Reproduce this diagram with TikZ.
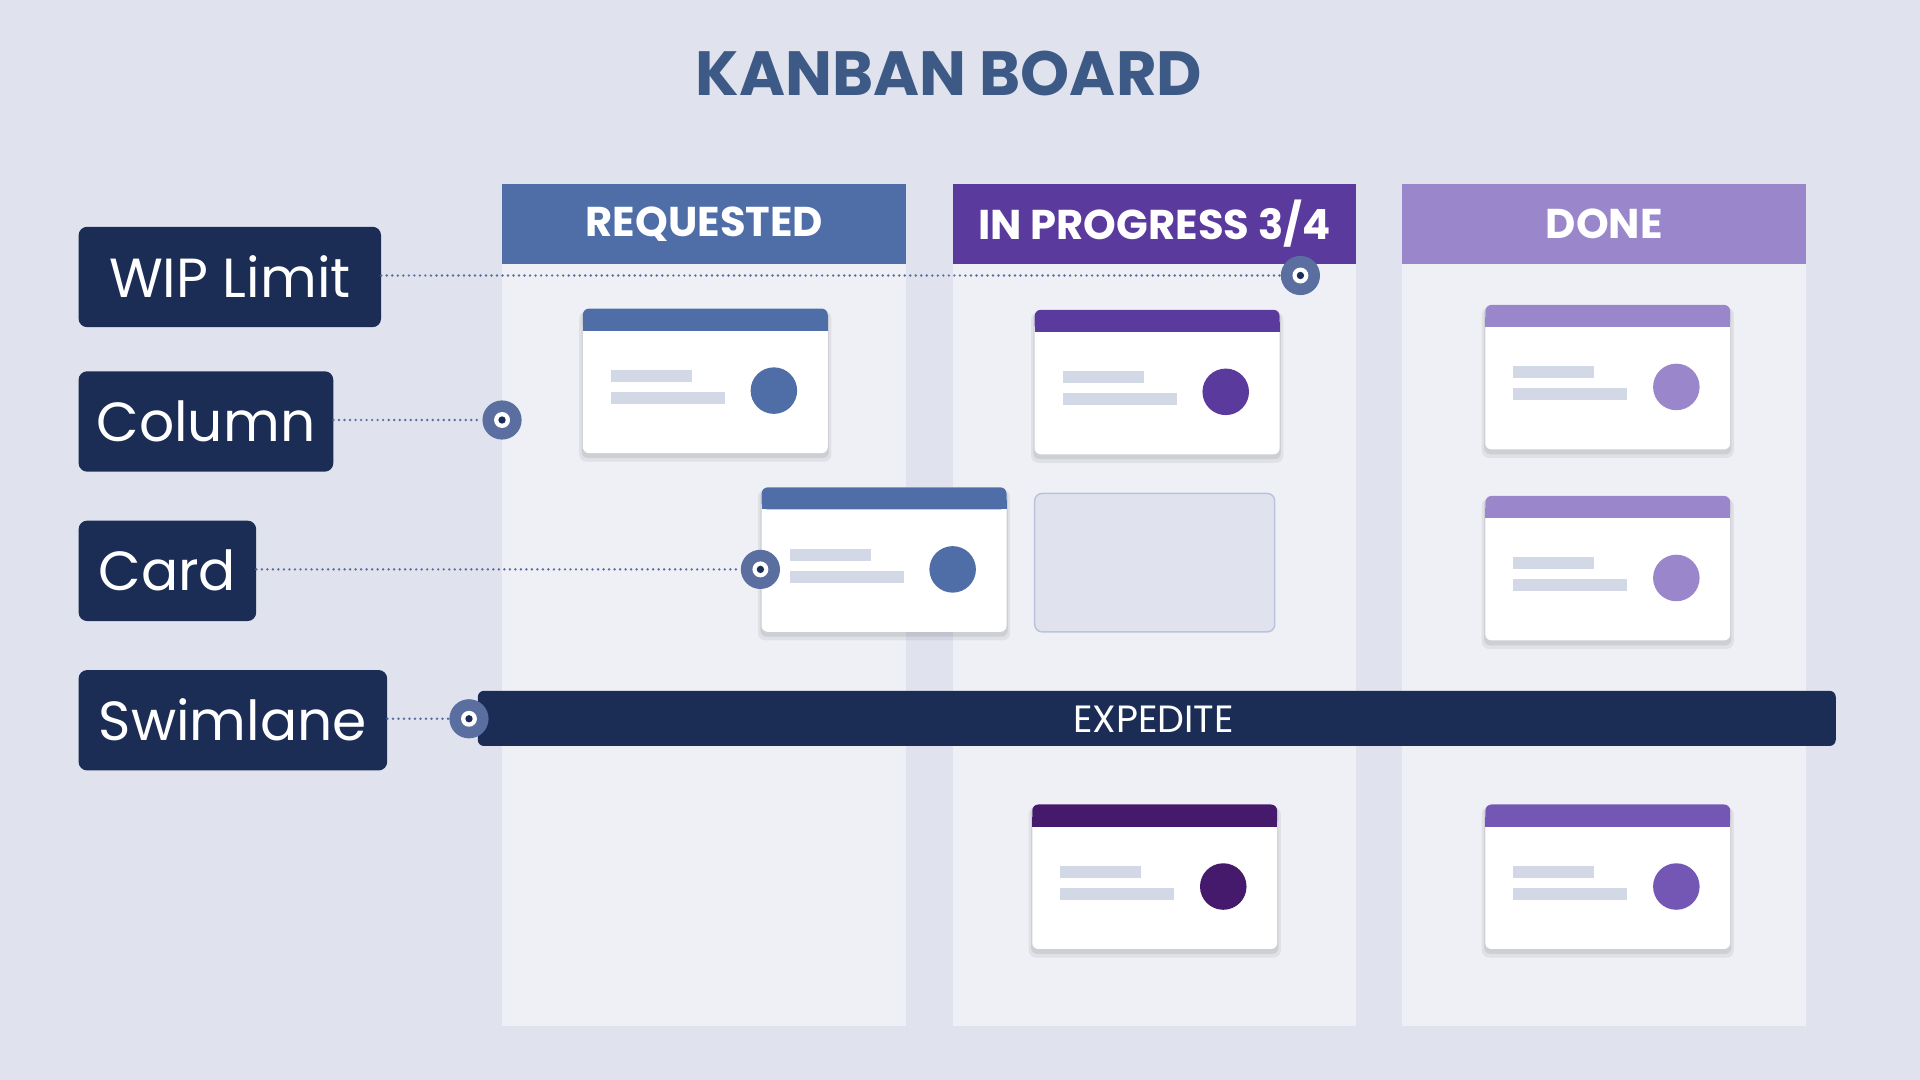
\documentclass[tikz,border=0pt]{standalone}
\usepackage{fontspec}
\setmainfont{Poppins}
\usetikzlibrary{shadows}
\definecolor{bg}{HTML}{E0E3EE}
\definecolor{colbg}{HTML}{EEF0F6}
\definecolor{req}{HTML}{4F6EA8}
\definecolor{prog}{HTML}{5B3A9E}
\definecolor{done}{HTML}{9A86CB}
\definecolor{navy}{HTML}{1B2D55}
\definecolor{ttl}{HTML}{3D5A87}
\definecolor{dpurp}{HTML}{45196B}
\definecolor{mpurp}{HTML}{7457B5}
\definecolor{lineg}{HTML}{D3D8E6}
\definecolor{mkc}{HTML}{5A6FA0}
\begin{document}
\begin{tikzpicture}[x=1pt,y=-1pt,
 lbl/.style={fill=navy,rounded corners=7pt,text=white,font=\fontsize{45}{45}\selectfont,anchor=north west,inner sep=0pt},
 hdr/.style={anchor=north west,minimum width=330pt,minimum height=65pt,inner sep=0pt,text=white,font=\bfseries\fontsize{34}{34}\selectfont},
 dots/.style={draw=mkc,line width=2.2pt,line cap=round,dash pattern=on 0pt off 4.5pt},
 mk/.style={circle,fill=mkc,minimum size=32pt,inner sep=0pt,path picture={\fill[white](path picture bounding box.center) circle (6.5pt);\fill[navy](path picture bounding box.center) circle (3pt);}}]
\fill[bg] (0,0) rectangle (1568,882);
\useasboundingbox (0,0) rectangle (1568,882);
\node[text=ttl,font=\bfseries\fontsize{51}{51}\selectfont] (title) at (775,60) {KANBAN BOARD};
% columns
\fill[colbg] (410,150) rectangle (740,838);
\fill[colbg] (778,150) rectangle (1107,838);
\fill[colbg] (1145,150) rectangle (1475,838);
\node[hdr,fill=req] (hreq) at (410,150) {REQUESTED};
\node[hdr,fill=prog,minimum width=329pt] (hprog) at (778,150) {IN PROGRESS 3/4};
\node[hdr,fill=done] (hdone) at (1145,150) {DONE};
% cards
\newcommand\kcard[4]{% x y color name
 \begin{scope}[shift={(#1,#2)}]
 \fill[black,opacity=0.06,rounded corners=6pt] (-3,2) rectangle (203,125);
 \fill[black,opacity=0.08,rounded corners=5pt] (-1,2) rectangle (201,122);
 \fill[white,rounded corners=5pt] (0,0) rectangle (200,118);
 \fill[#3,rounded corners=5pt] (0,0) rectangle (200,18);
 \fill[#3] (0,10) rectangle (200,18);
 \fill[lineg] (23,50) rectangle (89,60);
 \fill[lineg] (23,68) rectangle (116,78);
 \node[circle,fill=#3,minimum size=38pt,inner sep=0pt] (#4) at (156,67) {};
 \end{scope}}
\kcard{476}{252}{req}{r1}
\kcard{622}{398}{req}{r2}
\kcard{845}{253}{prog}{p1}
\kcard{843}{657}{dpurp}{p3}
\kcard{1213}{249}{done}{d1}
\kcard{1213}{405}{done}{d2}
\kcard{1213}{657}{mpurp}{d3}
\draw[fill=bg,draw=lineg!80!req,line width=1.2pt,rounded corners=6pt] (845,403) rectangle (1041,516);
% swimlane
\node[fill=navy,rounded corners=5pt,anchor=north west,minimum width=1109pt,minimum height=45pt,inner sep=0pt] (lane) at (390,564) {};
\node[text=white,font=\fontsize{31}{31}\selectfont] (exp) at (942,587) {EXPEDITE};
% labels
\node[lbl,minimum width=247pt,minimum height=82pt] (wip) at (64,185) {WIP Limit};
\node[lbl,minimum width=208pt,minimum height=82pt] (col) at (64,303) {Column};
\node[lbl,minimum width=145pt,minimum height=82pt] (card) at (64,425) {Card};
\node[lbl,minimum width=252pt,minimum height=82pt] (swim) at (64,547) {Swimlane};
\node[mk] (m1) at (1062,225) {};
\node[mk] (m2) at (410,343) {};
\node[mk] (m3) at (621,465) {};
\node[mk] (m4) at (383,587) {};
\draw[dots] (wip.east |- m1) -- (m1.west);
\draw[dots] (col.east |- m2) -- (m2.west);
\draw[dots] (card.east |- m3) -- (m3.west);
\draw[dots] (swim.east |- m4) -- (m4.west);
\end{tikzpicture}
\end{document}
